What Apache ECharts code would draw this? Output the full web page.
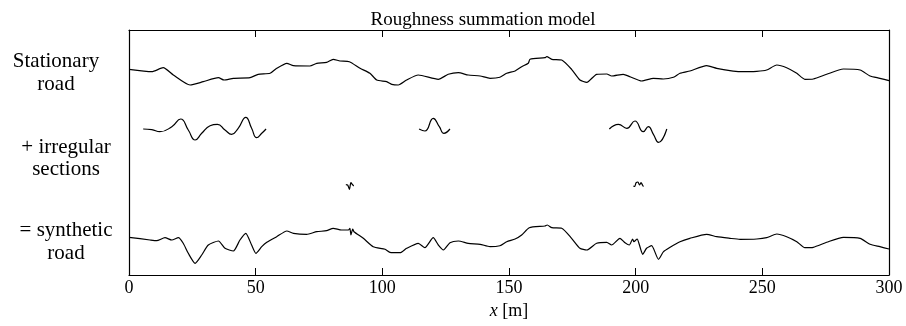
<!DOCTYPE html>
<html>
<head>
<meta charset="utf-8">
<script src="https://cdn.jsdelivr.net/npm/echarts@6/dist/echarts.min.js"></script>
<style>
  html, body { margin: 0; padding: 0; background: #fff; }
  #chart { width: 906px; height: 326px; }
</style>
</head>
<body>
<div id="chart"></div>
<script>
// Distance along the road [m] and profile elevation (relative units) for each profile.

// Stationary (random) road profile
const stationaryX = [0.0, 9.0, 13.5, 17.5, 24.1, 29.3, 35.3, 37.5, 41.2, 47.8, 51.0, 55.7, 58.3, 62.3, 64.9, 71.4, 74.1, 78.0, 80.6, 83.3, 87.0, 91.2, 95.1, 97.8, 101.7, 103.7, 106.3, 109.6, 114.2, 122.1, 126.0, 130.0, 133.9, 138.6, 142.5, 146.4, 149.1, 152.4, 155.0, 157.6, 158.3, 164.2, 164.9, 166.9, 170.8, 174.7, 178.0, 180.7, 184.6, 188.6, 190.5, 195.1, 197.8, 202.4, 207.0, 210.9, 214.9, 217.5, 221.4, 228.0, 232.0, 237.2, 241.2, 247.8, 251.7, 255.7, 259.6, 263.6, 266.8, 270.1, 275.4, 282.0, 288.6, 292.5, 296.4, 300.0];
const stationaryZ = [2.7, 0.3, 4.3, -3.0, -13.0, -9.7, -5.7, -8.0, -6.3, -5.7, -2.3, -1.3, 3.7, 8.7, 6.3, 6.0, 8.7, 9.7, 12.7, 11.0, 10.3, 3.7, -1.3, -8.0, -9.7, -12.3, -13.0, -8.0, -3.0, -7.3, -2.3, -0.7, -3.0, -4.0, -6.3, -5.3, -1.3, 1.0, 5.3, 8.7, 12.7, 14.3, 15.3, 12.7, 12.0, 2.7, -8.0, -10.3, -2.3, -2.0, -4.0, -2.3, -4.7, -9.0, -6.3, -7.0, -5.3, -1.3, 1.0, 6.3, 3.7, 1.3, 0.3, 0.7, 2.0, 7.0, 4.3, -1.3, -7.3, -7.0, -2.3, 3.0, 2.0, -4.0, -6.3, -8.7];

// Irregular sections, long wavelength
const sectionAX = [5.6, 9.0, 12.2, 16.9, 20.4, 23.4, 26.1, 28.7, 32.0, 34.9, 37.9, 40.5, 43.1, 46.1, 48.4, 50.4, 52.4, 54.1];
const sectionAZ = [0.0, -0.7, -2.7, 2.3, 10.0, -1.0, -11.0, -4.3, 3.3, 4.7, -1.0, -5.3, 0.7, 11.7, 0.7, -8.7, -4.3, 0.0];
const sectionBX = [114.5, 116.8, 120.1, 122.5, 124.3, 126.7];
const sectionBZ = [0.0, -2.0, 10.7, 2.3, -4.3, 0.0];
const sectionCX = [189.6, 193.2, 196.5, 199.7, 203.0, 205.0, 207.0, 209.0, 212.3];
const sectionCZ = [0.0, 4.7, 0.7, 8.0, -2.7, 2.3, -5.3, -13.3, 0.0];

// Irregular sections, short wavelength (bumps)
const bumpAX = [85.6, 86.3, 87.0, 87.6, 88.2, 88.7];
const bumpAZ = [0.3, 0.0, -4.3, 2.3, 0.5, -1.0];
const bumpBX = [199.1, 199.6, 200.2, 200.9, 201.5, 202.1, 202.8, 203.1];
const bumpBZ = [-1.0, -1.5, 2.3, 3.0, 0.0, 2.3, -0.5, -1.5];

// Synthetic road profile (stationary road + irregular sections)
const syntheticX = [0.0, 8.3, 10.9, 14.2, 16.9, 19.5, 21.4, 23.4, 26.1, 28.7, 31.3, 35.3, 37.9, 41.2, 43.8, 46.1, 48.4, 50.1, 52.4, 54.4, 58.3, 62.3, 64.9, 70.1, 74.1, 78.0, 80.6, 83.9, 86.6, 87.2, 87.6, 88.3, 88.8, 92.5, 96.4, 101.1, 103.0, 107.0, 109.6, 114.2, 116.8, 120.1, 122.1, 124.1, 126.7, 130.0, 133.9, 138.6, 142.5, 146.4, 149.1, 152.4, 155.0, 158.0, 164.2, 165.1, 166.9, 170.8, 174.7, 178.0, 180.7, 184.6, 188.6, 190.5, 193.8, 195.8, 197.5, 198.8, 199.3, 200.6, 201.4, 202.8, 204.3, 206.3, 209.0, 211.0, 213.6, 217.5, 221.4, 228.0, 232.0, 237.2, 241.2, 247.8, 251.7, 255.7, 259.6, 263.6, 266.8, 270.1, 275.4, 282.0, 288.6, 292.5, 296.4, 300.0];
const syntheticZ = [2.7, 0.0, -0.7, 2.3, 0.0, 2.3, -3.3, -13.3, -23.3, -15.0, -5.0, -1.0, -8.3, -11.0, 0.0, 6.7, -5.0, -13.3, -6.7, -2.3, 3.3, 9.0, 6.7, 5.7, 8.3, 9.3, 11.7, 10.0, 10.0, 11.7, 5.0, 11.0, 8.3, 1.7, -6.7, -9.3, -12.3, -12.7, -8.3, -3.3, -7.7, 2.3, -5.0, -10.0, -2.7, -1.0, -3.3, -4.3, -6.7, -5.7, -1.7, 1.0, 5.0, 12.3, 14.0, 15.0, 12.3, 11.7, 1.7, -8.3, -10.0, -3.3, -2.3, -5.0, 1.7, -2.7, -5.0, 1.0, -1.7, 1.0, -4.3, -14.3, -8.3, -5.7, -19.3, -11.7, -7.3, -1.7, 1.7, 5.7, 3.3, 1.7, 0.7, 1.0, 2.3, 6.0, 3.3, -1.7, -7.7, -7.3, -2.3, 2.7, 1.7, -4.3, -6.7, -9.0];

const xTicks = [0, 50, 100, 150, 200, 250, 300];

// Vertical placement of each row inside the plot (baseline level on the hidden y scale)
const ROW_STATIONARY = 203;
const ROW_SECTIONS = 146;
const ROW_BUMPS = 90;
const ROW_SYNTHETIC = 35;

function pairs(xs, zs, base) {
  return xs.map((x, i) => [x, base + zs[i]]);
}

function profile(name, xs, zs, base, smooth) {
  return {
    name: name,
    type: 'line',
    xAxisIndex: 0,
    yAxisIndex: 0,
    data: pairs(xs, zs, base),
    showSymbol: false,
    symbol: 'none',
    smooth: smooth,
    lineStyle: { color: '#000', width: 1.2 },
    silent: true,
    animation: false
  };
}

const FONT = '"Liberation Serif", "Times New Roman", serif';

const frameLine = { show: true, onZero: false, lineStyle: { color: '#000', width: 1.2 } };

const chart = echarts.init(document.getElementById('chart'), null, { renderer: 'canvas' });

chart.setOption({
  backgroundColor: '#fff',
  animation: false,
  title: {
    text: 'Roughness summation model',
    left: 478,
    top: 6,
    textAlign: 'center',
    textStyle: { fontFamily: FONT, fontSize: 19, fontWeight: 'normal', color: '#000' }
  },
  grid: { left: 129, right: 17, top: 30, bottom: 51, containLabel: false },
  xAxis: [
    {
      type: 'value', min: 0, max: 300, interval: 50, position: 'bottom',
      axisLine: frameLine,
      axisTick: { inside: true, length: 7, lineStyle: { color: '#000', width: 1 } },
      axisLabel: {
        fontFamily: FONT, fontSize: 18, color: '#000', margin: 4,
        formatter: v => (xTicks.includes(v) ? String(v) : '')
      },
      splitLine: { show: false },
      name: '{i|x} [m]',
      nameLocation: 'middle',
      nameGap: 24,
      nameTextStyle: {
        fontFamily: FONT, fontSize: 18, color: '#000',
        rich: { i: { fontFamily: FONT, fontSize: 18, fontStyle: 'italic', color: '#000' } }
      }
    },
    {
      type: 'value', min: 0, max: 300, interval: 50, position: 'top',
      axisLine: frameLine,
      axisTick: { inside: true, length: 7, lineStyle: { color: '#000', width: 1 } },
      axisLabel: { show: false },
      splitLine: { show: false }
    }
  ],
  yAxis: [
    {
      type: 'value', min: 0, max: 245, position: 'left',
      axisLine: frameLine,
      axisTick: { show: false }, axisLabel: { show: false }, splitLine: { show: false }
    },
    {
      type: 'value', min: 0, max: 245, position: 'right',
      axisLine: frameLine,
      axisTick: { show: false }, axisLabel: { show: false }, splitLine: { show: false }
    }
  ],
  graphic: [
    {
      type: 'text', silent: true,
      style: { x: 56, y: 73, text: 'Stationary\nroad', textAlign: 'center', textVerticalAlign: 'middle',
        font: '21px ' + FONT, lineHeight: 23, fill: '#000' }
    },
    {
      type: 'text', silent: true,
      style: { x: 66, y: 158, text: '+ irregular\nsections', textAlign: 'center', textVerticalAlign: 'middle',
        font: '21px ' + FONT, lineHeight: 22, fill: '#000' }
    },
    {
      type: 'text', silent: true,
      style: { x: 66, y: 242, text: '= synthetic\nroad', textAlign: 'center', textVerticalAlign: 'middle',
        font: '21px ' + FONT, lineHeight: 23, fill: '#000' }
    }
  ],
  series: [
    profile('stationary', stationaryX, stationaryZ, ROW_STATIONARY, 0.2),
    profile('sectionA', sectionAX, sectionAZ, ROW_SECTIONS, 0.5),
    profile('sectionB', sectionBX, sectionBZ, ROW_SECTIONS, 0.5),
    profile('sectionC', sectionCX, sectionCZ, ROW_SECTIONS, 0.5),
    profile('bumpA', bumpAX, bumpAZ, ROW_BUMPS, 0.3),
    profile('bumpB', bumpBX, bumpBZ, ROW_BUMPS, 0.3),
    profile('synthetic', syntheticX, syntheticZ, ROW_SYNTHETIC, 0.2)
  ]
});
</script>
</body>
</html>
